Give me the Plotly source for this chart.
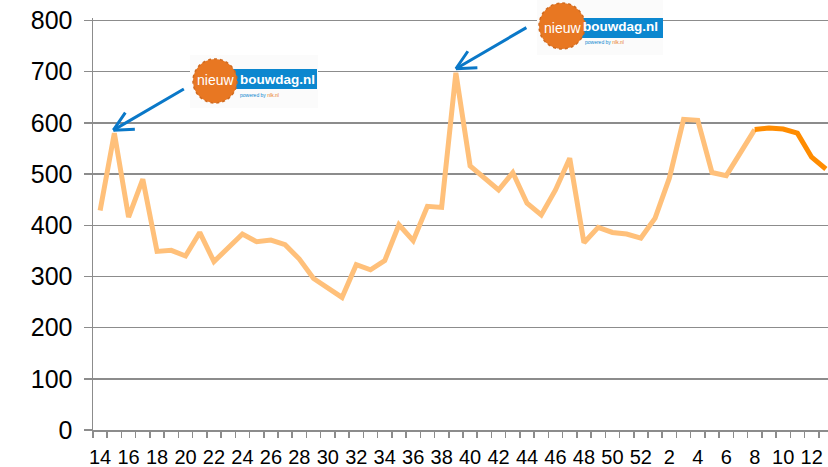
import plotly.graph_objects as go

# ---- data ----
weeks = list(range(14, 53)) + list(range(1, 14))
visits = [429, 580, 416, 490, 349, 351, 340, 386, 329, 355,
          383, 368, 371, 362, 334, 296, 277, 259, 323, 313,
          331, 401, 370, 437, 435, 698, 516, 493, 469, 503,
          443, 420, 469, 531, 366, 396, 386, 383, 375, 414,
          492, 607, 605, 503, 497, 542, 587, 590, 588, 580,
          533, 510]
highlight_from_week = 8          # darker segment starts here
event_weeks = [15, 39]           # nieuwbouwdag.nl events
tick_labels = [str(w) for w in weeks]
y_ticks = list(range(0, 801, 100))

LIGHT = "rgb(255,192,122)"
DARK = "rgb(255,140,0)"
GRID = "#8c8c8c"
BLUE = "#0a78c8"
LOGO_ORANGE = "#e87722"
LOGO_BLUE = "#0c87cf"

idx = list(range(len(weeks)))
split = weeks.index(highlight_from_week)

light_y = [v if i <= split else None for i, v in enumerate(visits)]
dark_y = [v if i >= split else None for i, v in enumerate(visits)]

fig = go.Figure()
fig.add_trace(go.Scatter(x=idx, y=light_y, mode="lines",
                         line=dict(color=LIGHT, width=5, shape="linear"),
                         connectgaps=False, showlegend=False, hoverinfo="skip"))
fig.add_trace(go.Scatter(x=idx, y=dark_y, mode="lines",
                         line=dict(color=DARK, width=5),
                         connectgaps=False, showlegend=False, hoverinfo="skip"))

W, H = 828, 467
ML, MR, MT, MB = 93, 0, 18, 37
PW, PH = W - ML - MR, H - MT - MB


def px(xs):
    return (xs - ML) / PW


def py(ys):
    return (H - MB - ys) / PH


shapes = []
annotations = []


def logo(box, cx, cy, r, rect, nieuw_c, bouw_c, pw_c):
    shapes.append(dict(type="rect", xref="paper", yref="paper", layer="above",
                       x0=px(box[0]), x1=px(box[1]), y0=py(box[3]), y1=py(box[2]),
                       fillcolor="#fbfbfb", line=dict(width=0)))
    shapes.append(dict(type="rect", xref="paper", yref="paper", layer="above",
                       x0=px(rect[0]), x1=px(rect[1]), y0=py(rect[3]), y1=py(rect[2]),
                       fillcolor=LOGO_BLUE, line=dict(width=0)))
    shapes.append(dict(type="circle", xref="paper", yref="paper", layer="above",
                       x0=px(cx - r), x1=px(cx + r), y0=py(cy + r), y1=py(cy - r),
                       fillcolor=LOGO_ORANGE, line=dict(color="#d06a1f", width=1.5, dash="dot")))
    annotations.append(dict(xref="paper", yref="paper", x=px(nieuw_c[0]), y=py(nieuw_c[1]),
                            text="nieuw", showarrow=False, xanchor="center", yanchor="middle",
                            font=dict(family="Arial, Liberation Sans", size=14, color="white")))
    annotations.append(dict(xref="paper", yref="paper", x=px(bouw_c[0]), y=py(bouw_c[1]),
                            text="<b>bouwdag.nl</b>", showarrow=False, xanchor="center", yanchor="middle",
                            font=dict(family="Arial, Liberation Sans", size=13.5, color="white")))
    annotations.append(dict(xref="paper", yref="paper", x=px(pw_c[0]), y=py(pw_c[1]),
                            text='powered by <span style="color:#e87722">nlk.nl</span>',
                            showarrow=False, xanchor="left", yanchor="middle",
                            font=dict(family="Arial, Liberation Sans", size=5, color=LOGO_BLUE)))


logo(box=(190, 318, 55, 108), cx=215, cy=81, r=22, rect=(225, 317, 69, 89),
     nieuw_c=(215, 80), bouw_c=(277, 79), pw_c=(238, 95))
logo(box=(537, 663, 0, 55), cx=562, cy=26, r=23, rect=(572, 663, 18, 38),
     nieuw_c=(562.5, 28), bouw_c=(620.5, 27), pw_c=(583, 42))

# arrows pointing to the event peaks
for wk, xs, ys in zip(event_weeks, [-1, 0], [3, 4]):
    i = weeks.index(wk)
    for ax, ay in [(72, -42), (13, -19), (23, -1)]:
        annotations.append(dict(x=i, y=visits[i], xref="x", yref="y", text="",
                                showarrow=True, arrowhead=0, arrowwidth=3, arrowcolor=BLUE,
                                ax=ax, ay=ay, standoff=0, startstandoff=0,
                                xshift=xs, yshift=ys))

fig.update_layout(
    width=W, height=H,
    margin=dict(l=ML, r=MR, t=MT, b=MB, pad=0),
    paper_bgcolor="white", plot_bgcolor="white",
    font=dict(family="Arial, Liberation Sans, sans-serif", color="black"),
    shapes=shapes, annotations=annotations,
    xaxis=dict(
        range=[-0.5, 51.15],
        tickmode="array",
        tickvals=idx[::2], ticktext=tick_labels[::2],
        ticks="", showgrid=False, zeroline=False,
        showline=True, linecolor=GRID, linewidth=1.5,
        tickfont=dict(size=20, color="black"),
        ticklabelstandoff=8,
        minor=dict(tickmode="array", tickvals=[i - 0.5 for i in range(len(weeks) + 1)],
                   ticks="outside", ticklen=6, tickcolor=GRID, tickwidth=1.5, showgrid=False),
        fixedrange=True,
    ),
    yaxis=dict(
        range=[0, 805], tickmode="array", tickvals=y_ticks,
        ticktext=[str(v) for v in y_ticks],
        showgrid=True, gridcolor=GRID, gridwidth=1.5,
        zeroline=False, showline=True, linecolor=GRID, linewidth=1.5,
        ticks="outside", ticklen=8, tickcolor=GRID, tickwidth=1.5,
        tickfont=dict(size=25, color="black"),
        ticklabelstandoff=6,
        fixedrange=True,
    ),
)

fig.write_html(
    "out.html",
    config={"displayModeBar": False, "staticPlot": True},
    post_script="document.documentElement.style.overflow='hidden';"
                "document.body.style.margin='0px';document.body.style.overflow='hidden';",
)
